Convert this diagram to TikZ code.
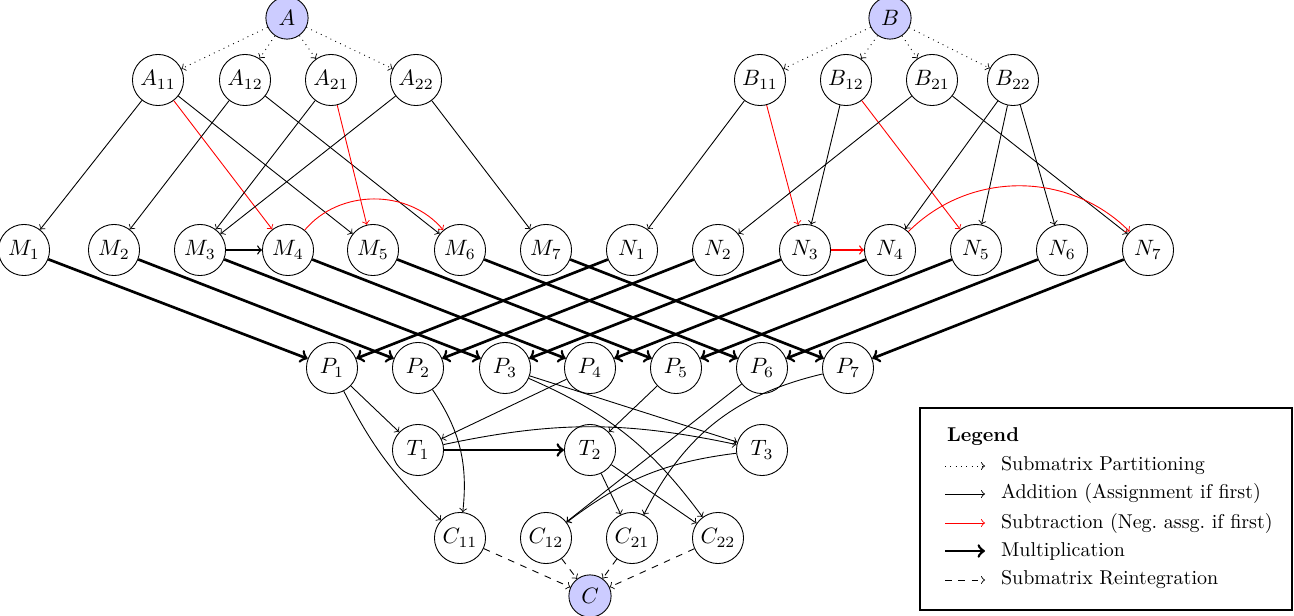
\documentclass[tikz,border=0pt]{standalone}
\usetikzlibrary{arrows}
\begin{document}
\begin{tikzpicture}[x=0.45pt,y=-0.45pt,
 nd/.style={circle,draw,minimum size=23pt,inner sep=0pt},
 src/.style={circle,draw,fill=blue!20,minimum size=19pt,inner sep=0pt},
 part/.style={->,dotted},
 add/.style={->},
 sub/.style={->,red},
 mul/.style={->,very thick},
 reint/.style={->,dashed},
 lt/.style={anchor=west,scale=0.9}]
\useasboundingbox (0,0) rectangle (1294,616);
\node[src] (A) at (287,18) {$A$};
\node[src] (B) at (890,18) {$B$};
\foreach \n/\x in {A11/158,A12/245,A21/331,A22/416,B11/760,B12/846,B21/932,B22/1013}
  \node[nd] (\n) at (\x,80) {};
\node at (A11) {$A_{11}$};\node at (A12) {$A_{12}$};\node at (A21) {$A_{21}$};\node at (A22) {$A_{22}$};
\node at (B11) {$B_{11}$};\node at (B12) {$B_{12}$};\node at (B21) {$B_{21}$};\node at (B22) {$B_{22}$};
\foreach \i/\x in {1/24,2/114,3/200,4/288,5/373,6/460,7/546}
  \node[nd] (M\i) at (\x,250) {$M_{\i}$};
\foreach \i/\x in {1/632,2/718,3/805,4/890,5/976,6/1062,7/1148}
  \node[nd] (N\i) at (\x,250) {$N_{\i}$};
\foreach \i/\x in {1/332,2/418,3/505,4/590,5/676,6/762,7/848}
  \node[nd] (P\i) at (\x,368) {$P_{\i}$};
\node[nd] (T1) at (418,450) {$T_1$};
\node[nd] (T2) at (590,450) {$T_2$};
\node[nd] (T3) at (762,450) {$T_3$};
\node[nd] (C11) at (460,538) {$C_{11}$};
\node[nd] (C12) at (546,538) {$C_{12}$};
\node[nd] (C21) at (632,538) {$C_{21}$};
\node[nd] (C22) at (718,538) {$C_{22}$};
\node[src] (C) at (590,596) {$C$};
% partitioning
\foreach \t in {A11,A12,A21,A22} \draw[part] (A) -- (\t);
\foreach \t in {B11,B12,B21,B22} \draw[part] (B) -- (\t);
% A -> M
\draw[add] (A11) -- (M1); \draw[sub] (A11) -- (M4); \draw[add] (A11) -- (M5);
\draw[add] (A12) -- (M2); \draw[add] (A12) -- (M6);
\draw[add] (A21) -- (M3); \draw[sub] (A21) -- (M5);
\draw[add] (A22) -- (M3); \draw[add] (A22) -- (M7);
\draw[add,semithick] (M3) -- (M4);
\draw[sub] (M4) to[bend left=50] (M6);
% B -> N
\draw[add] (B11) -- (N1); \draw[sub] (B11) -- (N3);
\draw[add] (B12) -- (N3); \draw[sub] (B12) -- (N5);
\draw[add] (B21) -- (N2); \draw[add] (B21) -- (N7);
\draw[add] (B22) -- (N4); \draw[add] (B22) -- (N5); \draw[add] (B22) -- (N6);
\draw[sub,semithick] (N3) -- (N4);
\draw[sub] (N4) to[bend left=45] (N7);
% multiplication
\foreach \i in {1,...,7} {\draw[mul] (M\i) -- (P\i); \draw[mul] (N\i) -- (P\i);}
% combination
\draw[add] (P1) -- (T1);
\draw[add] (P1) to[bend right=10] (C11);
\draw[add] (P2) to[bend left=20] (C11);
\draw[add] (P4) -- (T1);
\draw[add] (P5) -- (T2);
\draw[add] (P3) -- (T3);
\draw[add] (P3) to[bend left=15] (C22);
\draw[add] (P6) -- (C12);
\draw[add] (P7) to[bend right=25] (C21);
\draw[mul] (T1) -- (T2);
\draw[add] (T1) to[bend left=12] (T3);
\draw[add] (T3) to[bend right=15] (C12);
\draw[add] (T2) -- (C21);
\draw[add] (T2) -- (C22);
\foreach \c in {C11,C12,C21,C22} \draw[reint] (\c) -- (C);
% legend
\node[draw,thick,minimum width=372*0.45pt,minimum height=202*0.45pt] (leg) at (1106,509) {};
\node[lt,font=\bfseries] (ltt) at (940,437) {Legend};
\coordinate (l1a) at (945,466); \coordinate (l1b) at (985,466);
\coordinate (l2a) at (945,494); \coordinate (l2b) at (985,494);
\coordinate (l3a) at (945,523); \coordinate (l3b) at (985,523);
\coordinate (l4a) at (945,551); \coordinate (l4b) at (985,551);
\coordinate (l5a) at (945,580); \coordinate (l5b) at (985,580);
\draw[part] (l1a) -- (l1b); \node[lt] at (994,466) {Submatrix Partitioning};
\draw[add] (l2a) -- (l2b); \node[lt] at (994,494) {Addition (Assignment if first)};
\draw[sub] (l3a) -- (l3b); \node[lt] at (994,523) {Subtraction (Neg.\ assg.\ if first)};
\draw[mul] (l4a) -- (l4b); \node[lt] at (994,551) {Multiplication};
\draw[reint] (l5a) -- (l5b); \node[lt] at (994,580) {Submatrix Reintegration};
\end{tikzpicture}
\end{document}
